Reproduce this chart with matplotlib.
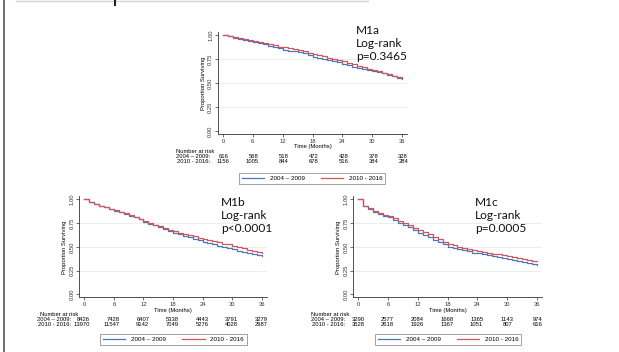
import matplotlib
matplotlib.use("Agg")
import matplotlib.pyplot as plt
from matplotlib.lines import Line2D
from matplotlib.transforms import blended_transform_factory

# ---------------- data ----------------
months = list(range(37))
x_ticks = [0, 6, 12, 18, 24, 30, 36]
y_ticks = [0.00, 0.25, 0.50, 0.75, 1.00]
group_labels = ["2004 \u2013 2009", "2010 - 2016"]

m1a_early = [1.0, 0.99, 0.97, 0.96, 0.95, 0.94, 0.93, 0.92, 0.91, 0.89, 0.88, 0.86, 0.84,
             0.835, 0.83, 0.82, 0.81, 0.79, 0.77, 0.76, 0.75, 0.74, 0.73, 0.715, 0.70,
             0.69, 0.67, 0.655, 0.645, 0.635, 0.625, 0.61, 0.60, 0.585, 0.57, 0.555, 0.54]
m1a_late = [1.0, 0.99, 0.98, 0.97, 0.96, 0.945, 0.935, 0.925, 0.915, 0.905, 0.895, 0.88, 0.87,
            0.86, 0.85, 0.84, 0.83, 0.815, 0.80, 0.79, 0.78, 0.765, 0.75, 0.74, 0.725,
            0.71, 0.695, 0.68, 0.665, 0.65, 0.635, 0.62, 0.605, 0.59, 0.575, 0.56, 0.55]
m1a_risk_early = [616, 568, 518, 472, 428, 378, 328]
m1a_risk_late = [1156, 1005, 844, 678, 516, 384, 284]

m1b_early = [1.0, 0.97, 0.95, 0.93, 0.915, 0.90, 0.88, 0.865, 0.85, 0.83, 0.81, 0.79, 0.765,
             0.745, 0.725, 0.705, 0.685, 0.665, 0.645, 0.63, 0.615, 0.60, 0.585, 0.57, 0.555,
             0.54, 0.525, 0.51, 0.50, 0.49, 0.475, 0.46, 0.45, 0.435, 0.425, 0.41, 0.40]
m1b_late = [1.0, 0.975, 0.955, 0.935, 0.92, 0.90, 0.885, 0.87, 0.855, 0.835, 0.815, 0.795, 0.775,
            0.755, 0.735, 0.72, 0.70, 0.68, 0.665, 0.65, 0.635, 0.62, 0.61, 0.595, 0.585,
            0.57, 0.56, 0.55, 0.535, 0.525, 0.51, 0.50, 0.485, 0.47, 0.46, 0.445, 0.43]
m1b_risk_early = [8426, 7428, 6407, 5338, 4443, 3791, 3279]
m1b_risk_late = [13970, 11547, 9142, 7049, 5276, 4028, 2987]

m1c_early = [1.0, 0.93, 0.90, 0.87, 0.85, 0.83, 0.81, 0.78, 0.755, 0.73, 0.705, 0.675, 0.65,
             0.625, 0.60, 0.575, 0.55, 0.525, 0.50, 0.49, 0.475, 0.465, 0.455, 0.44, 0.43,
             0.42, 0.41, 0.40, 0.39, 0.38, 0.37, 0.36, 0.35, 0.34, 0.33, 0.32, 0.31]
m1c_late = [1.0, 0.935, 0.905, 0.88, 0.86, 0.84, 0.825, 0.80, 0.775, 0.75, 0.725, 0.70, 0.68,
            0.655, 0.63, 0.605, 0.58, 0.555, 0.53, 0.515, 0.50, 0.49, 0.48, 0.465, 0.455,
            0.445, 0.435, 0.425, 0.42, 0.41, 0.40, 0.39, 0.38, 0.37, 0.36, 0.355, 0.35]
m1c_risk_early = [3290, 2577, 2084, 1668, 1365, 1143, 974]
m1c_risk_late = [3528, 2618, 1926, 1367, 1051, 807, 616]

annot_m1a = "M1a\nLog-rank\np=0.3465"
annot_m1b = "M1b\nLog-rank\np<0.0001"
annot_m1c = "M1c\nLog-rank\np=0.0005"

# ---------------- style ----------------
W, H = 619, 352
BLUE = "#4a78b8"
RED = "#d0555c"
GRID = "#e4ecef"
AXC = "#333333"
FONT = "Liberation Sans"
FS = 4.2
LFS = 4.5

fig = plt.figure(figsize=(6.19, 3.52), dpi=100)
fig.patch.set_facecolor("white")


def fx(px):
    return px / W


def fy(py):
    return 1 - py / H


def panel(left, right, top, bottom, early, late, r_early, r_late, annot,
          annot_xy, nar_x, leg_c):
    ax = fig.add_axes([fx(left), fy(bottom), (right - left) / W, (bottom - top) / H])
    ax.set_xlim(-1, 37)
    ax.set_ylim(-0.03, 1.03)
    for yv in y_ticks[1:-1]:
        ax.axhline(yv, color=GRID, lw=0.6, zorder=0)
    ax.step(months, early, where="post", color=BLUE, lw=0.9, label=group_labels[0])
    ax.step(months, late, where="post", color=RED, lw=0.9, label=group_labels[1])
    ax.set_xticks(x_ticks)
    ax.set_xticklabels([str(t) for t in x_ticks], fontsize=FS, family=FONT)
    ax.set_yticks(y_ticks)
    ax.set_yticklabels(["%.2f" % t for t in y_ticks], fontsize=FS, family=FONT,
                       rotation=90, va="center")
    ax.tick_params(length=2, width=0.5, pad=1.5, colors=AXC)
    for s in ("top", "right"):
        ax.spines[s].set_visible(False)
    for s in ("left", "bottom"):
        ax.spines[s].set_linewidth(0.6)
        ax.spines[s].set_color(AXC)
    ax.set_xlabel("Time (Months)", fontsize=FS, family=FONT, labelpad=0.5)
    ax.set_ylabel("Proportion Surviving", fontsize=FS, family=FONT, labelpad=1.5)

    # annotation
    fig.text(fx(annot_xy[0]), fy(annot_xy[1]), annot, fontsize=8.6, family="Lato",
             ha="left", va="top", linespacing=1.25, color="#111111")

    # number at risk table
    tr = blended_transform_factory(ax.transData, fig.transFigure)
    y0 = bottom + 17.5
    fig.text(fx(nar_x), fy(y0), "Number at risk", fontsize=FS, family=FONT,
             ha="left", va="center")
    for row, (lab, vals) in enumerate([(group_labels[0], r_early), (group_labels[1], r_late)]):
        yy = fy(y0 + 5.0 * (row + 1))
        ax.text(-2.6, yy, lab + ":", transform=tr, fontsize=FS, family=FONT,
                ha="right", va="center")
        for t, v in zip(x_ticks, vals):
            ax.text(t + 1.2, yy, str(v), transform=tr, fontsize=FS, family=FONT,
                    ha="right", va="center")

    leg = ax.legend(loc="center", bbox_to_anchor=(fx(leg_c[0]), fy(leg_c[1])),
                    bbox_transform=fig.transFigure, ncol=2,
                    prop={"family": FONT, "size": LFS}, frameon=True, fancybox=False,
                    edgecolor="#777777", handlelength=3.6, handletextpad=0.9,
                    columnspacing=2.6, borderpad=0.45, borderaxespad=0)
    leg.get_frame().set_linewidth(0.6)
    return ax


panel(218, 407, 32.1, 133.9, m1a_early, m1a_late, m1a_risk_early, m1a_risk_late,
      annot_m1a, (356, 25), 176, (312, 178.5))
panel(79.4, 266.6, 196.5, 297.2, m1b_early, m1b_late, m1b_risk_early, m1b_risk_late,
      annot_m1b, (221, 197), 40, (173.5, 339.5))
panel(353.4, 541.7, 196.5, 297.2, m1c_early, m1c_late, m1c_risk_early, m1c_risk_late,
      annot_m1c, (475, 197), 311, (448, 339.5))

# page decorations: left rule and clipped line at the top
fig.add_artist(Line2D([fx(4), fx(4)], [0, 1], transform=fig.transFigure,
                      color="#555555", lw=1.2))
fig.add_artist(Line2D([fx(16), fx(368)], [fy(0.6), fy(0.6)], transform=fig.transFigure,
                      color="#d4d4d4", lw=1.0))
fig.add_artist(Line2D([fx(115), fx(115)], [fy(0), fy(5)], transform=fig.transFigure,
                      color="#222222", lw=1.5))

fig.savefig("out.png", dpi=100)
